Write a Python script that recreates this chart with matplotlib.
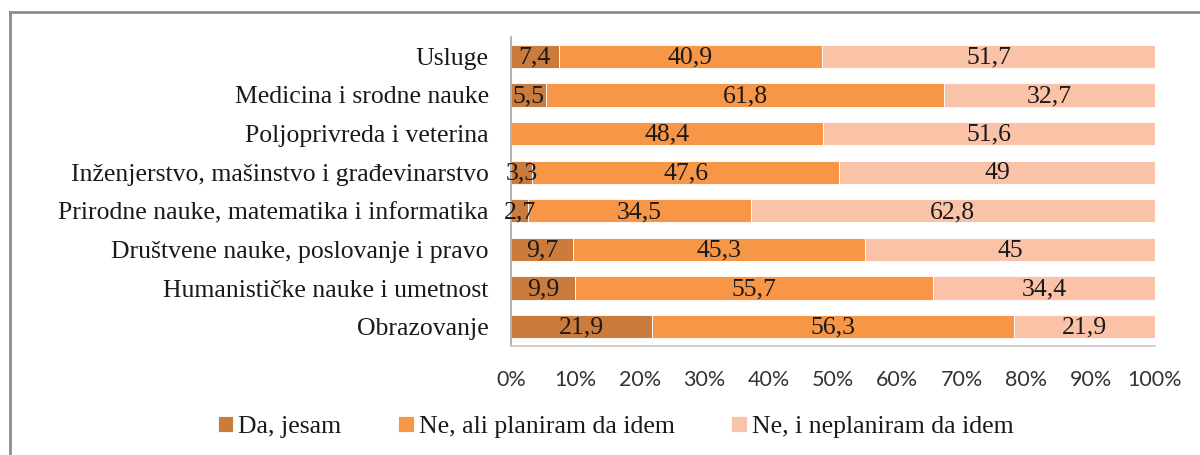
import matplotlib.pyplot as plt
import numpy as np
from matplotlib.lines import Line2D

categories = ["Obrazovanje", "Humanističke nauke i umetnost",
              "Društvene nauke, poslovanje i pravo",
              "Prirodne nauke, matematika i informatika",
              "Inženjerstvo, mašinstvo i građevinarstvo",
              "Poljoprivreda i veterina", "Medicina i srodne nauke", "Usluge"]
da_jesam = [21.9, 9.9, 9.7, 2.7, 3.3, 0.0, 5.5, 7.4]
ne_planiram = [56.3, 55.7, 45.3, 34.5, 47.6, 48.4, 61.8, 40.9]
ne_neplaniram = [21.9, 34.4, 45.0, 62.8, 49.0, 51.6, 32.7, 51.7]
series_names = ["Da, jesam", "Ne, ali planiram da idem", "Ne, i neplaniram da idem"]
colors = ["#CB7B3C", "#F79646", "#FAC3A7"]

SERIF = "Liberation Serif"
SANS = "Lato"


def fmt(v):
    s = ("%.1f" % v).rstrip("0").rstrip(".")
    return s.replace(".", ",")


def main():
    fig = plt.figure(figsize=(12, 4.55), dpi=100)
    ax = fig.add_axes([0.4258, 0.2396, 0.9625 - 0.4258, 0.9187 - 0.2396])

    data = np.array([da_jesam, ne_planiram, ne_neplaniram])
    totals = data.sum(axis=0)
    pct = data / totals * 100
    y = np.arange(len(categories))
    left = np.zeros(len(categories))
    for i in range(3):
        bars = ax.barh(y, pct[i], left=left, height=0.6, color=colors[i],
                       edgecolor="white", linewidth=0.6, label=series_names[i])
        for j, b in enumerate(bars):
            if data[i, j] > 0:
                ax.text(left[j] + pct[i, j] / 2, y[j] - 0.03, fmt(data[i, j]),
                        ha="center", va="center", fontsize=18.5,
                        family=SERIF, color="#1a1a1a")
        left += pct[i]

    ax.set_xlim(0, 100)
    ax.set_ylim(-0.5, len(categories) - 0.5)
    ax.set_yticks(y)
    ax.set_yticklabels(categories, family=SERIF, fontsize=18.5, color="#1a1a1a")
    ax.set_xticks(np.arange(0, 101, 10))
    ax.set_xticklabels(["%d%%" % v for v in range(0, 101, 10)],
                       family=SANS, fontsize=15.5, color="#333333")
    ax.tick_params(axis="both", length=0)
    ax.tick_params(axis="x", pad=17)
    ax.tick_params(axis="y", pad=16)
    for s in ["top", "right"]:
        ax.spines[s].set_visible(False)
    ax.spines["left"].set_color("#A6A6A6")
    ax.spines["bottom"].set_color("#C8C8C8")
    ax.spines["left"].set_linewidth(1.2)
    ax.spines["bottom"].set_linewidth(1.2)

    leg = fig.legend(loc="center", bbox_to_anchor=(0.513, 0.062), ncol=3,
                     frameon=False, prop={"family": SERIF, "size": 18.5},
                     handlelength=0.6, handleheight=0.6, handletextpad=0.2,
                     columnspacing=2.2)
    for t in leg.get_texts():
        t.set_color("#1a1a1a")

    # outer frame (top and left visible)
    fig.add_artist(Line2D([0.008, 1.0], [0.974, 0.974], color="#8C8C8C",
                          linewidth=2, transform=fig.transFigure))
    fig.add_artist(Line2D([0.0085, 0.0085], [0.0, 0.974], color="#8C8C8C",
                          linewidth=2, transform=fig.transFigure))

    fig.savefig("out.png", dpi=100)


if __name__ == '__main__':
    main()
